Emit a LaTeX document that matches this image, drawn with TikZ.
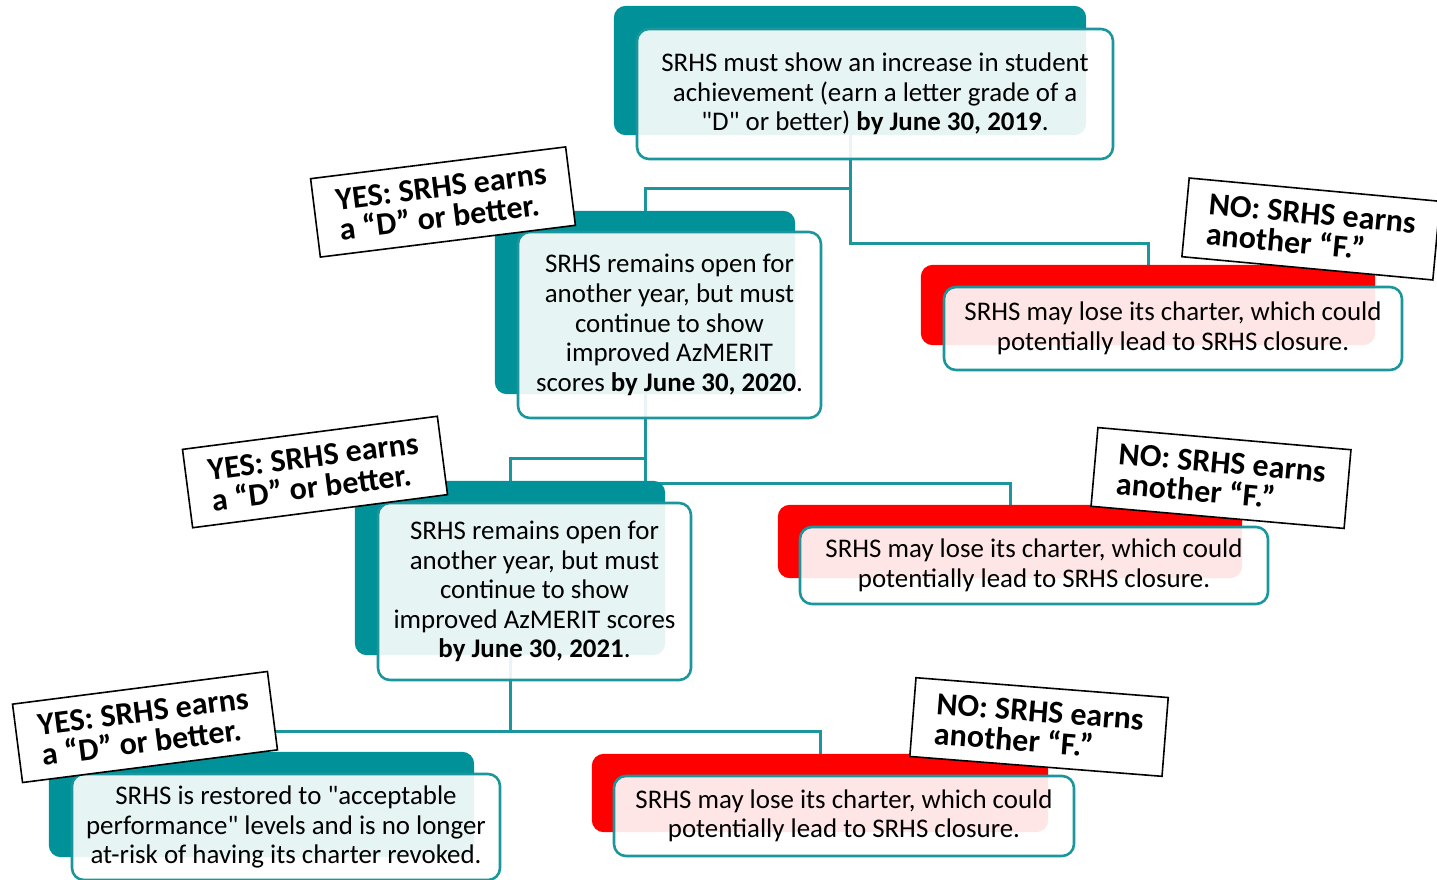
\documentclass[tikz,border=0pt]{standalone}
\usepackage{fontspec}
\setmainfont{Carlito}[Ligatures=TeXOff]
\definecolor{tealA}{RGB}{0,146,152}
\definecolor{tealL}{RGB}{26,150,156}
\definecolor{redA}{RGB}{255,0,0}
\tikzset{
  backT/.style={fill=tealA, rounded corners=12pt, draw=none, inner sep=0pt},
  backR/.style={fill=redA, rounded corners=12pt, draw=none, inner sep=0pt},
  front/.style={fill=white, fill opacity=0.9, text opacity=1, draw=tealL, line width=2.6pt,
    rounded corners=12pt, inner sep=0pt, align=center, font=\fontsize{26.9}{29.6}\selectfont},
  lab/.style={fill=white, draw=black, line width=1.6pt, inner sep=0pt, align=left,
    minimum width=257pt, minimum height=79pt, font=\fontsize{32}{30.5}\selectfont\bfseries},
  conn/.style={draw=tealL, line width=3pt},
}
\begin{document}
\begin{tikzpicture}[x=1pt,y=-1pt]
\useasboundingbox (0,0) rectangle (1437,880);
% back shapes as nodes (placed first so connectors can refer to them)
\node[backT, minimum width=472pt, minimum height=129pt, opacity=0] (t1b) at (850,70.5) {};
\node[backT, minimum width=300pt, minimum height=183pt, opacity=0] (t2b) at (645,302.5) {};
\node[backT, minimum width=310pt, minimum height=174pt, opacity=0] (t3b) at (510,568) {};
\node[backT, minimum width=425pt, minimum height=105pt, opacity=0] (t4b) at (261.5,804.5) {};
\node[backR, minimum width=454pt, minimum height=80pt, opacity=0] (r1b) at (1148,305) {};
\node[backR, minimum width=464pt, minimum height=73pt, opacity=0] (r2b) at (1010,541.5) {};
\node[backR, minimum width=456pt, minimum height=78pt, opacity=0] (r3b) at (820,793) {};

% connectors
\draw[conn] (t1b.center) -- (t1b.center |- 0,243) -| ([yshift=-3pt]r1b.north);
\draw[conn] (t1b.center |- 0,188) -| (t2b.north);
\draw[conn] (t2b.center) -- (t2b.center |- 0,483) -| ([yshift=-3pt]r2b.north);
\draw[conn] (t2b.center |- 0,458) -| (t3b.north);
\draw[conn] (t3b.center) -- (t3b.center |- 0,731) -| ([yshift=-3pt]r3b.north);
\draw[conn] (t3b.center |- 0,731) -| (t4b.north);

% visible back shapes
\fill[tealA, rounded corners=12pt] (t1b.south west) rectangle (t1b.north east);
\fill[tealA, rounded corners=12pt] (t2b.south west) rectangle (t2b.north east);
\fill[tealA, rounded corners=12pt] (t3b.south west) rectangle (t3b.north east);
\fill[tealA, rounded corners=12pt] (t4b.south west) rectangle (t4b.north east);
\fill[redA, rounded corners=12pt] (r1b.south west) rectangle (r1b.north east);
\fill[redA, rounded corners=12pt] (r2b.south west) rectangle (r2b.north east);
\fill[redA, rounded corners=12pt] (r3b.south west) rectangle (r3b.north east);

% front boxes
\node[front, minimum width=476pt, minimum height=130pt] (f1) at (875,94)
  {SRHS must show an increase in student\\achievement (earn a letter grade of a\\"D" or better) \textbf{by June 30, 2019}.};
\node[front, minimum width=303pt, minimum height=186pt] (f2) at (669.5,325)
  {SRHS remains open for\\another year, but must\\continue to show\\improved AzMERIT\\scores \textbf{by June 30, 2020}.};
\node[front, minimum width=313pt, minimum height=177pt] (f3) at (534.5,591.5)
  {SRHS remains open for\\another year, but must\\continue to show\\improved AzMERIT scores\\\textbf{by June 30, 2021}.};
\node[front, minimum width=428pt, minimum height=106pt] (f4) at (286,827)
  {SRHS is restored to "acceptable\\performance" levels and is no longer\\at-risk of having its charter revoked.};
\node[front, minimum width=458pt, minimum height=83pt] (g1) at (1173,328.5)
  {SRHS may lose its charter, which could\\potentially lead to SRHS closure.};
\node[front, minimum width=468pt, minimum height=77pt] (g2) at (1034,565.5)
  {SRHS may lose its charter, which could\\potentially lead to SRHS closure.};
\node[front, minimum width=460pt, minimum height=80pt] (g3) at (844,816)
  {SRHS may lose its charter, which could\\potentially lead to SRHS closure.};

% labels
\node[lab, rotate=7.1] (y1) at (443,202) {YES: SRHS earns\\a “D” or better.};
\node[lab, rotate=7.4] (y2) at (315,472) {YES: SRHS earns\\a “D” or better.};
\node[lab, rotate=7.3] (y3) at (145,727) {YES: SRHS earns\\a “D” or better.};
\node[lab, rotate=-5.3, minimum width=252pt] (n1) at (1311,229) {NO: SRHS earns\\another “F.”};
\node[lab, rotate=-5, minimum width=254pt] (n2) at (1221,478) {NO: SRHS earns\\another “F.”};
\node[lab, rotate=-4.5, minimum width=253pt] (n3) at (1039,727) {NO: SRHS earns\\another “F.”};
\end{tikzpicture}
\end{document}
